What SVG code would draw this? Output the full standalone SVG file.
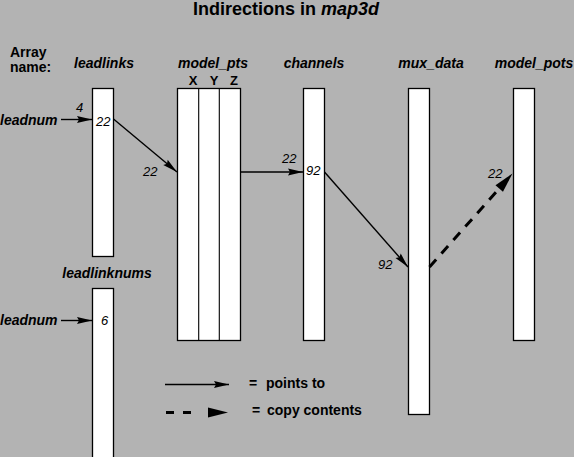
<svg xmlns="http://www.w3.org/2000/svg" width="574" height="457" viewBox="0 0 574 457">
<style>
.lbl{font-family:"Liberation Sans",Arial,sans-serif;font-weight:bold;font-style:italic;font-size:14px;fill:#000}
.b{font-family:"Liberation Sans",Arial,sans-serif;font-weight:bold;font-size:14px;fill:#000}
.num{font-family:"Liberation Sans",Arial,sans-serif;font-style:italic;font-size:13px;fill:#000}
.box{fill:#fff;stroke:#000;stroke-width:1.3}
.ln{fill:none;stroke:#000;stroke-width:1.4}
.dash{fill:none;stroke:#000;stroke-width:3;stroke-dasharray:10 8}
</style>
<defs>
<marker id="ah" markerUnits="userSpaceOnUse" viewBox="-16 -5 17 10" refX="0" refY="0" markerWidth="17" markerHeight="10" orient="auto">
<path d="M-15,-3.5 L0,0 L-15,3.5 L-13,0 Z" fill="#000"/>
</marker>
<marker id="ahd" markerUnits="userSpaceOnUse" viewBox="-22 -6 23 12" refX="0" refY="0" markerWidth="23" markerHeight="12" orient="auto">
<path d="M-20,-5 L0,0 L-20,5 Z" fill="#000"/>
</marker>
</defs>
<rect width="574" height="457" fill="#b3b3b3"/>
<text x="286" y="15" text-anchor="middle" class="b" style="font-size:18px">Indirections in <tspan font-style="italic">map3d</tspan></text>
<text x="10" y="57" class="b">Array</text>
<text x="10" y="72" class="b">name:</text>

<g id="leadlinks">
<rect class="box" x="92.5" y="88.5" width="21" height="168"/>
<text x="104" y="68" text-anchor="middle" class="lbl">leadlinks</text>
<text x="96" y="126" class="num">22</text>
</g>
<g id="model_pts">
<rect class="box" x="177.5" y="88.5" width="63" height="252"/>
<line class="ln" x1="198.7" y1="88.5" x2="198.7" y2="340.5" style="stroke-width:1.1"/>
<line class="ln" x1="219.3" y1="88.5" x2="219.3" y2="340.5" style="stroke-width:1.1"/>
<text x="213" y="68" text-anchor="middle" class="lbl">model_pts</text>
<text x="193" y="85" text-anchor="middle" class="b" style="font-size:13px">X</text>
<text x="214" y="85" text-anchor="middle" class="b" style="font-size:13px">Y</text>
<text x="234" y="85" text-anchor="middle" class="b" style="font-size:13px">Z</text>
</g>
<g id="channels">
<rect class="box" x="303.5" y="88.5" width="21" height="252"/>
<text x="314" y="68" text-anchor="middle" class="lbl">channels</text>
<text x="306" y="175" class="num">92</text>
</g>
<g id="mux_data">
<rect class="box" x="408.5" y="88.5" width="21" height="326"/>
<text x="431" y="68" text-anchor="middle" class="lbl">mux_data</text>
</g>
<g id="model_pots">
<rect class="box" x="513.5" y="88.5" width="21" height="252"/>
<text x="534" y="68" text-anchor="middle" class="lbl">model_pots</text>
</g>
<g id="leadlinknums">
<rect class="box" x="92.5" y="288.5" width="21" height="170"/>
<text x="107" y="278" text-anchor="middle" class="lbl">leadlinknums</text>
<text x="101" y="325" class="num">6</text>
</g>
<g id="leadnum1">
<text x="0" y="125" class="lbl">leadnum</text>
</g>
<g id="leadnum2">
<text x="0" y="325" class="lbl">leadnum</text>
</g>

<g id="connectors">
<line class="ln" x1="61" y1="119.5" x2="92" y2="119.5" marker-end="url(#ah)"/>
<text x="76" y="112" class="num">4</text>
<line class="ln" x1="61" y1="320.5" x2="92" y2="320.5" marker-end="url(#ah)"/>
<line class="ln" x1="113.5" y1="119" x2="177" y2="172" marker-end="url(#ah)"/>
<text x="143" y="176" class="num">22</text>
<line class="ln" x1="240.5" y1="172" x2="303" y2="172" marker-end="url(#ah)"/>
<text x="282" y="163" class="num">22</text>
<line class="ln" x1="324.5" y1="172" x2="408" y2="267" marker-end="url(#ah)"/>
<text x="378" y="269" class="num">92</text>
<line class="dash" x1="429.5" y1="267" x2="512.5" y2="173.5" marker-end="url(#ahd)"/>
<text x="488" y="178" class="num">22</text>
</g>

<g id="legend">
<line class="ln" x1="165" y1="384.5" x2="229" y2="384.5" marker-end="url(#ah)"/>
<text x="249" y="388" class="b">=</text>
<text x="266" y="388" class="b">points to</text>
<line class="dash" x1="166" y1="412.5" x2="191" y2="412.5" style="stroke-dasharray:8 9"/>
<path d="M208,407.5 L228,412.5 L208,417.5 Z" fill="#000"/>
<text x="252" y="415" class="b">=</text>
<text x="267" y="415" class="b">copy contents</text>
</g>
</svg>
